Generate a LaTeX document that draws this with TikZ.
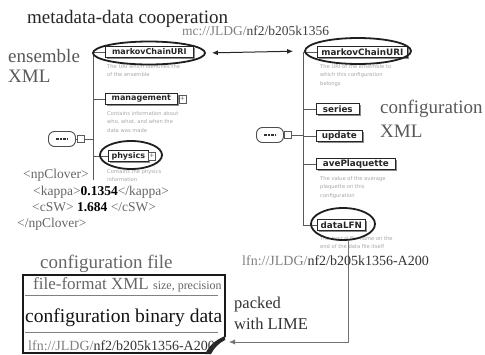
\documentclass[tikz,border=0pt]{standalone}
\usepackage{fontspec}
\setmainfont{Liberation Serif}
\newfontfamily\elfont{DejaVu Sans}
\usetikzlibrary{shapes.geometric,arrows.meta,shadows}
\newcommand{\myfs}[1]{\fontsize{#1}{#1}\selectfont}
\begin{document}
\begin{tikzpicture}[x=1pt,y=-1pt,
 txt/.style={inner sep=0pt, anchor=base west},
 big/.style={txt, font=\myfs{19}, text=black!65},
 elbox/.style={draw=black!85, line width=0.7pt, fill=white, inner sep=0pt, minimum height=11pt, text=black!85, anchor=west,
   drop shadow={shadow xshift=1.2pt, shadow yshift=-1.2pt, fill=black!45, opacity=1}},
 lfont/.style={font=\elfont\bfseries\myfs{8}},
 rfont/.style={font=\elfont\bfseries\myfs{8.8}},
 desc/.style={inner sep=0pt, anchor=north west, font=\elfont\fontsize{5.2}{8.5}\selectfont, text=black!35, align=left},
 ell/.style={ellipse, draw=black!88, line width=1.8pt, inner sep=0pt},
 tree/.style={draw=black!65, line width=0.7pt},
 plusbox/.style={draw=black!65, line width=0.6pt, fill=white, minimum width=7pt, minimum height=8pt, inner sep=0pt, font=\elfont\myfs{6}, text=black!60},
 pill/.style={draw=black!70, line width=0.9pt, fill=white, rounded corners=6pt, minimum width=27pt, minimum height=15pt, inner sep=0pt},
 sq/.style={draw=black!65, line width=0.6pt, fill=white, minimum size=7pt, inner sep=0pt},
 xmltxt/.style={txt, font=\myfs{13.5}, text=black!60},
 arr/.style={-{Latex[length=6pt,width=5pt]}}
]
\useasboundingbox (0,0) rectangle (485,354);
\fill[white] (0,0) rectangle (485,354);

% titles
\node[txt, font=\myfs{19}, text=black!85] (title) at (27,23) {metadata-data cooperation};
\node[txt, font=\myfs{13.5}] (url) at (182,35) {\textcolor{black!50}{mc://JLDG/}\textcolor{black!75}{nf2/b205k1356}};
\node[big] (ens1) at (8,62) {ensemble};
\node[big] (ens2) at (8,82) {XML};
\node[big] (conf1) at (380,113) {configuration};
\node[big] (conf2) at (380,137) {XML};

% ---------- left schema ----------
\coordinate (lt) at (93,52);
\coordinate (lb) at (93,180);
\draw[tree] (lt) -- (lb);
\node[pill] (rootL) at (62,139) {};
\draw[black!80, line width=1.6pt, dash pattern=on 2.5pt off 1.2pt] ([xshift=-6pt]rootL.center) -- ([xshift=6pt]rootL.center);
\node[sq] (sqL) at (80.5,139) {};
\draw[tree] (rootL.east) -- (sqL.west);
\draw[tree] (sqL.east) -- (sqL.east -| lt);

\node[elbox, lfont, minimum width=88pt] (mcL) at (105,52) {markovChainURI};
\node[elbox, lfont, minimum width=72pt] (mgL) at (105,99) {management};
\node[plusbox] (pmg) at (182.5,99) {+};
\node[elbox, lfont, minimum width=40pt] (phL) at (108,156) {physics};
\node[plusbox] (pph) at (152,156) {+};
\draw[tree] (mcL.west -| lt) -- (mcL.west);
\draw[tree] (mgL.west -| lt) -- (mgL.west);
\draw[tree] (phL.west -| lt) -- (phL.west);

\node[desc] (dmcL) at (107,64) {The URI which identifies the\\of the ensemble};
\node[desc] (dmgL) at (107,111) {Contains information about\\who, what, and when the\\data was made};
\node[desc] (dphL) at (107,169) {Contains the physics\\information};

\node[ell, minimum width=112pt, minimum height=23pt] (elMcL) at (149,53) {};
\node[ell, minimum width=62pt, minimum height=28pt] (elPh) at (131,155) {};

% npClover
\node[xmltxt] (np1) at (23,178) {<npClover>};
\node[xmltxt] (np2) at (33,195) {<kappa>\textcolor{black}{\textbf{0.1354}}</kappa>};
\node[xmltxt] (np3) at (32,211) {<cSW> \textcolor{black}{\textbf{1.684}} </cSW>};
\node[xmltxt] (np4) at (17,227) {</npClover>};

% ---------- right schema ----------
\coordinate (rt) at (303,52);
\coordinate (rb) at (303,225);
\draw[tree] (rt) -- (rb);
\node[pill] (rootR) at (270,135) {};
\draw[black!80, line width=1.6pt, dash pattern=on 2.5pt off 1.2pt] ([xshift=-6pt]rootR.center) -- ([xshift=6pt]rootR.center);
\node[sq] (sqR) at (288,135) {};
\draw[tree] (rootR.east) -- (sqR.west);
\draw[tree] (sqR.east) -- (sqR.east -| rt);

\node[elbox, rfont, minimum width=90pt] (mcR) at (317,52) {markovChainURI};
\node[elbox, rfont, minimum width=43pt] (seR) at (316,109) {series};
\node[elbox, rfont, minimum width=46pt] (upR) at (316,136) {update};
\node[elbox, rfont, minimum width=79pt] (apR) at (316,164) {avePlaquette};
\node[elbox, rfont, minimum width=48pt] (dfR) at (317,225) {dataLFN};
\draw[tree] (mcR.west -| rt) -- (mcR.west);
\draw[tree] (seR.west -| rt) -- (seR.west);
\draw[tree] (upR.west -| rt) -- (upR.west);
\draw[tree] (apR.west -| rt) -- (apR.west);
\draw[tree] (dfR.west -| rt) -- (dfR.west);

\node[desc] (dmcR) at (320,64) {The URI of the ensemble to\\which this configuration\\belongs};
\node[desc] (dapR) at (320,176) {The value of the average\\plaquette on this\\configuration};
\node[desc] (ddfR) at (320,236) {The logical file name on the\\end of the data file itself};

\node[ell, minimum width=106pt, minimum height=26pt] (elMcR) at (358,51) {};
\node[ell, minimum width=64pt, minimum height=32pt] (elDF) at (343,224) {};

% metadata-data double arrow
\draw[{Latex[length=6pt,width=5pt]}-{Latex[length=6pt,width=5pt]}, line width=1pt, black!85, shorten <=6pt, shorten >=11pt] (elMcL.east) -- (elMcR.west);

% ---------- configuration file ----------
\node[txt, font=\myfs{19}, text=black!60] (cftitle) at (40,268) {configuration file};
\draw[line width=1.6pt, black!90] (206,353) -- (23,353) -- (23,275) -- (225,275) -- (225,337);
\fill[black!85] (225,336) .. controls (219,339) and (211,342) .. (205,354) -- (211,354) .. controls (214,348) and (219,343) .. (225,340) -- cycle;
\draw[black!50, line width=0.6pt] (25,295) -- (218,295);
\draw[black!50, line width=0.6pt] (25,332) -- (218,332);
\node[txt, font=\myfs{17}, text=black!60] (ff) at (33,289) {file-format XML \myfs{12}size, precision};
\node[txt, font=\myfs{19.5}, text=black!92] (cbd) at (25,322) {configuration binary data};
\node[txt, font=\myfs{14}] (lfnB) at (28,350) {\textcolor{black!50}{lfn://JLDG/}\textcolor{black!80}{nf2/b205k1356-A200}};

\coordinate (boxin) at (229,342);
\draw[arr, black!55, line width=0.8pt] ([xshift=5pt]elDF.south) |- (boxin);
\node[txt, font=\myfs{14}] (lfnR) at (242,265) {\textcolor{black!50}{lfn://JLDG/}\textcolor{black!80}{nf2/b205k1356-A200}};

\node[txt, font=\myfs{16.5}, text=black!80] (pk1) at (234,308) {packed};
\node[txt, font=\myfs{16.5}, text=black!80] (pk2) at (234,329) {with LIME};
\end{tikzpicture}
\end{document}
